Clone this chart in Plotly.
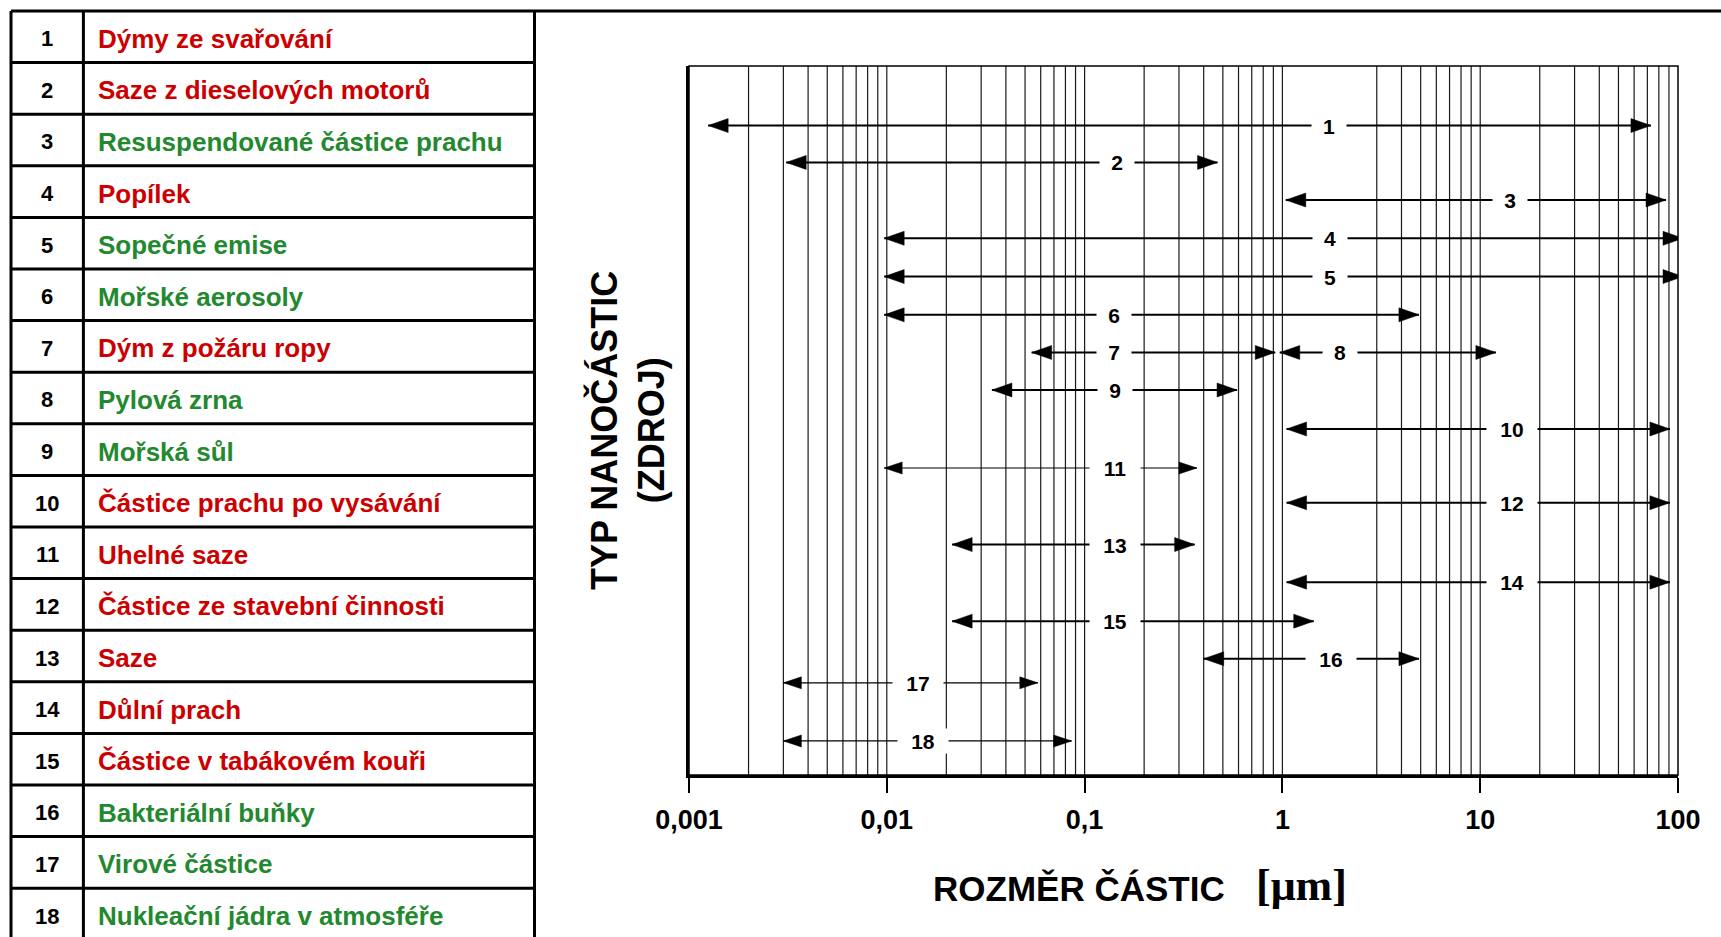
import numpy as np
import plotly.graph_objects as go

# ---------------- data ----------------
row_numbers = list(range(1, 19))
source_names = [
    "Dýmy ze svařování", "Saze z dieselových motorů", "Resuspendované částice prachu",
    "Popílek", "Sopečné emise", "Mořské aerosoly", "Dým z požáru ropy", "Pylová zrna",
    "Mořská sůl", "Částice prachu po vysávání", "Uhelné saze", "Částice ze stavební činnosti",
    "Saze", "Důlní prach", "Částice v tabákovém kouři", "Bakteriální buňky",
    "Virové částice", "Nukleační jádra v atmosféře",
]
source_kind = ["a", "a", "n", "a", "n", "n", "a", "n", "n", "a", "a", "a", "a", "a", "a", "n", "n", "n"]
size_min = [0.00125, 0.0031, 1.04, 0.0097, 0.0097, 0.0097, 0.054, 0.97, 0.034, 1.05,
            0.0097, 1.05, 0.0214, 1.05, 0.0214, 0.40, 0.0030, 0.0030]
size_max = [73, 0.47, 87, 106, 106, 4.9, 0.92, 12, 0.59, 91,
            0.37, 91, 0.36, 91, 1.44, 4.9, 0.058, 0.086]
arrow_labels = ["1", "2", "3", "4", "5", "6", "7", "8", "9", "10",
                "11", "12", "13", "14", "15", "16", "17", "18"]
label_pos = [1.72, 0.146, 14.1, 1.75, 1.75, 0.141, 0.141, 1.95, 0.142, 14.4,
             0.142, 14.4, 0.142, 14.4, 0.142, 1.76, 0.0144, 0.0152]
row_level = [8.4, 13.6, 18.9, 24.3, 29.7, 35.1, 40.4, 40.4, 45.7, 51.2,
             56.7, 61.6, 67.5, 72.8, 78.3, 83.6, 87.0, 95.2]
thin_rows = [11, 17, 18]
grid_values = [0.002, 0.003, 0.004, 0.005, 0.006, 0.007, 0.008, 0.009,
               0.01, 0.02, 0.03, 0.04, 0.05, 0.06, 0.07, 0.08, 0.09,
               0.1, 0.2, 0.3, 0.4, 0.5, 0.6, 0.7, 0.8, 0.9,
               1, 3, 4, 5, 6, 7, 8, 9,
               10, 20, 30, 40, 50, 60, 70, 80, 90]
tick_values = [0.001, 0.01, 0.1, 1, 10, 100]
tick_labels = ["0,001", "0,01", "0,1", "1", "10", "100"]
x_title = "ROZMĚR ČÁSTIC"
x_unit = "[μm]"
y_title = ["TYP NANOČÁSTIC", "(ZDROJ)"]

# ---------------- layout geometry (pixels) ----------------
W, H = 1721, 937
PLOT_L, PLOT_R, PLOT_T, PLOT_B = 689, 1678, 66, 775
X_MIN, X_MAX = 0.001, 100
RED, GREEN = "#cc0000", "#23892f"
FONT = "Liberation Sans, Arial, sans-serif"


def px(x):
    return x / W


def py(y):
    return 1 - y / H


plot_w = PLOT_R - PLOT_L
plot_h = PLOT_B - PLOT_T
dec_per_px = (np.log10(X_MAX) - np.log10(X_MIN)) / plot_w
unit_per_px = 100.0 / plot_h

fig = go.Figure()

# gridlines
gx, gy = [], []
for v in grid_values:
    gx += [v, v, None]
    gy += [0, 100, None]
fig.add_trace(go.Scatter(x=gx, y=gy, mode="lines", line=dict(color="#1a1a1a", width=1.2),
                         hoverinfo="skip"))

# arrow shafts
for thin in (False, True):
    lx, ly = [], []
    for i in range(len(size_min)):
        if (row_numbers[i] in thin_rows) != thin:
            continue
        lx += [size_min[i], size_max[i], None]
        ly += [row_level[i], row_level[i], None]
    fig.add_trace(go.Scatter(x=lx, y=ly, mode="lines",
                             line=dict(color="black", width=1.2 if thin else 2),
                             hoverinfo="skip"))

# arrow heads
hx, hy = [], []
for i in range(len(size_min)):
    thin = row_numbers[i] in thin_rows
    L = (18 if thin else 20) * dec_per_px
    Hh = (6 if thin else 7) * unit_per_px
    y = row_level[i]
    a = size_min[i]
    b = size_max[i]
    hx += [a, a * 10 ** L, a * 10 ** L, a, None]
    hy += [y, y - Hh, y + Hh, y, None]
    hx += [b, b / 10 ** L, b / 10 ** L, b, None]
    hy += [y, y - Hh, y + Hh, y, None]
fig.add_trace(go.Scatter(x=hx, y=hy, mode="lines", fill="toself", fillcolor="black",
                         line=dict(color="black", width=0.5), hoverinfo="skip"))

annotations = []
# arrow labels
for i in range(len(size_min)):
    lab = arrow_labels[i]
    annotations.append(dict(
        x=np.log10(label_pos[i]), y=row_level[i], xref="x", yref="y",
        text="<b>%s</b>" % lab, showarrow=False, bgcolor="white",
        width=32 if len(lab) == 1 else 48, height=22,
        font=dict(family=FONT, size=21, color="black"),
        xanchor="center", yanchor="middle"))

# axis titles
annotations.append(dict(x=px(1079), y=py(888), xref="paper", yref="paper",
                        text="<b>%s</b>" % x_title, showarrow=False,
                        font=dict(family=FONT, size=35, color="black"),
                        xanchor="center", yanchor="middle"))
annotations.append(dict(x=px(1301), y=py(885), xref="paper", yref="paper",
                        text="<b>%s</b>" % x_unit, showarrow=False,
                        font=dict(family="Liberation Serif, Times New Roman, serif", size=44,
                                  color="black"),
                        xanchor="center", yanchor="middle"))
annotations.append(dict(x=px(627), y=py(431), xref="paper", yref="paper",
                        text="<b>%s</b><br><b>%s</b>" % (y_title[0], y_title[1]),
                        showarrow=False, textangle=-90,
                        font=dict(family=FONT, size=36, color="black"),
                        xanchor="center", yanchor="middle"))

# table
TBL_L, TBL_M, TBL_R, TBL_T, ROW_H = 11, 83.4, 534.5, 11, 51.6
shapes = []
line_style = dict(color="black", width=3)
shapes.append(dict(type="line", xref="paper", yref="paper", x0=px(TBL_L), x1=1,
                   y0=py(TBL_T), y1=py(TBL_T), line=line_style))
for i in range(1, len(row_numbers) + 1):
    yy = TBL_T + i * ROW_H
    shapes.append(dict(type="line", xref="paper", yref="paper", x0=px(TBL_L), x1=px(TBL_R),
                       y0=py(yy), y1=py(yy), line=line_style))
for xx in (TBL_L, TBL_M, TBL_R):
    shapes.append(dict(type="line", xref="paper", yref="paper", x0=px(xx), x1=px(xx),
                       y0=py(TBL_T), y1=0, line=line_style))
for i, (n, name, kind) in enumerate(zip(row_numbers, source_names, source_kind)):
    yc = TBL_T + (i + 0.5) * ROW_H + 2
    annotations.append(dict(x=px((TBL_L + TBL_M) / 2), y=py(yc), xref="paper", yref="paper",
                            text="<b>%d</b>" % n, showarrow=False,
                            font=dict(family=FONT, size=22, color="black"),
                            xanchor="center", yanchor="middle"))
    annotations.append(dict(x=px(96), y=py(yc), xref="paper", yref="paper",
                            text="<b>%s</b>" % name, showarrow=False,
                            font=dict(family=FONT, size=26, color=RED if kind == "a" else GREEN),
                            xanchor="left", yanchor="middle"))

# plot frame (top/right thin)
shapes.append(dict(type="rect", xref="x domain", yref="y domain", x0=0, x1=1, y0=0, y1=1,
                   line=dict(color="black", width=1.5), layer="above"))

fig.update_layout(
    width=W, height=H, margin=dict(l=0, r=0, t=0, b=0, pad=0, autoexpand=False),
    paper_bgcolor="white", plot_bgcolor="white", showlegend=False,
    shapes=shapes, annotations=annotations,
    xaxis=dict(type="log", range=[np.log10(X_MIN), np.log10(X_MAX)],
               domain=[px(PLOT_L), px(PLOT_R)], automargin=False,
               showgrid=False, zeroline=False, showline=True, linecolor="black", linewidth=2.5,
               ticks="outside", ticklen=15, tickwidth=2, tickcolor="black",
               tickvals=tick_values, ticktext=["<b>%s</b>" % t for t in tick_labels],
               tickfont=dict(family=FONT, size=27, color="black"), ticklabelstandoff=4),
    yaxis=dict(range=[100, 0], domain=[py(PLOT_B), py(PLOT_T)], automargin=False,
               showgrid=False, zeroline=False, showline=True, linecolor="black", linewidth=3,
               showticklabels=False, ticks=""),
)

fig.write_html("out.html")
